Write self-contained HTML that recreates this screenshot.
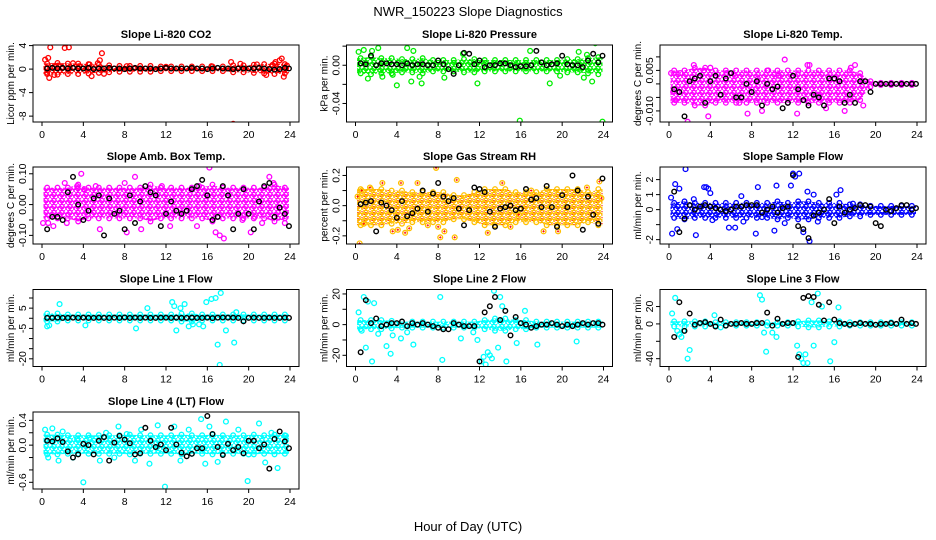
<!DOCTYPE html>
<html><head><meta charset="utf-8"><title>NWR_150223 Slope Diagnostics</title>
<style>
html,body{margin:0;padding:0;background:#fff;}
svg{display:block;font-family:"Liberation Sans",Arial,sans-serif;}
</style></head>
<body>
<svg id="chart" width="936" height="540" viewBox="0 0 936 540" xmlns="http://www.w3.org/2000/svg">
<defs>
<pattern id="pat-red" width="8" height="6" patternUnits="userSpaceOnUse"><circle cx="2" cy="1.5" r="2.1" fill="none" stroke="#ff0000" stroke-width="1.3"/><circle cx="6" cy="2.5" r="2.1" fill="none" stroke="#ff0000" stroke-width="1.3"/><circle cx="4" cy="4.5" r="2.1" fill="none" stroke="#ff0000" stroke-width="1.3"/><circle cx="0" cy="5" r="2.1" fill="none" stroke="#ff0000" stroke-width="1.3"/><circle cx="8" cy="5" r="2.1" fill="none" stroke="#ff0000" stroke-width="1.3"/></pattern>
<pattern id="pat-green" width="8" height="6" patternUnits="userSpaceOnUse"><circle cx="2" cy="1.5" r="2.1" fill="none" stroke="#00ee00" stroke-width="1.3"/><circle cx="6" cy="2.5" r="2.1" fill="none" stroke="#00ee00" stroke-width="1.3"/><circle cx="4" cy="4.5" r="2.1" fill="none" stroke="#00ee00" stroke-width="1.3"/><circle cx="0" cy="5" r="2.1" fill="none" stroke="#00ee00" stroke-width="1.3"/><circle cx="8" cy="5" r="2.1" fill="none" stroke="#00ee00" stroke-width="1.3"/></pattern>
<pattern id="pat-magenta" width="8" height="6" patternUnits="userSpaceOnUse"><circle cx="2" cy="1.5" r="2.1" fill="none" stroke="#ff00ff" stroke-width="1.3"/><circle cx="6" cy="2.5" r="2.1" fill="none" stroke="#ff00ff" stroke-width="1.3"/><circle cx="4" cy="4.5" r="2.1" fill="none" stroke="#ff00ff" stroke-width="1.3"/><circle cx="0" cy="5" r="2.1" fill="none" stroke="#ff00ff" stroke-width="1.3"/><circle cx="8" cy="5" r="2.1" fill="none" stroke="#ff00ff" stroke-width="1.3"/></pattern>
<pattern id="pat-blue" width="8" height="6" patternUnits="userSpaceOnUse"><circle cx="2" cy="1.5" r="2.1" fill="none" stroke="#0000ff" stroke-width="1.3"/><circle cx="6" cy="2.5" r="2.1" fill="none" stroke="#0000ff" stroke-width="1.3"/><circle cx="4" cy="4.5" r="2.1" fill="none" stroke="#0000ff" stroke-width="1.3"/><circle cx="0" cy="5" r="2.1" fill="none" stroke="#0000ff" stroke-width="1.3"/><circle cx="8" cy="5" r="2.1" fill="none" stroke="#0000ff" stroke-width="1.3"/></pattern>
<pattern id="pat-cyan" width="8" height="6" patternUnits="userSpaceOnUse"><circle cx="2" cy="1.5" r="2.1" fill="none" stroke="#00ffff" stroke-width="1.3"/><circle cx="6" cy="2.5" r="2.1" fill="none" stroke="#00ffff" stroke-width="1.3"/><circle cx="4" cy="4.5" r="2.1" fill="none" stroke="#00ffff" stroke-width="1.3"/><circle cx="0" cy="5" r="2.1" fill="none" stroke="#00ffff" stroke-width="1.3"/><circle cx="8" cy="5" r="2.1" fill="none" stroke="#00ffff" stroke-width="1.3"/></pattern>
<pattern id="pat-rh" width="8" height="6" patternUnits="userSpaceOnUse"><circle cx="2" cy="1.5" r="2.1" fill="none" stroke="#ffd000" stroke-width="1.3"/><circle cx="6" cy="2.5" r="2.1" fill="none" stroke="#ffb000" stroke-width="1.3"/><circle cx="4" cy="4.5" r="2.1" fill="none" stroke="#ffd000" stroke-width="1.3"/><circle cx="0" cy="5" r="2.1" fill="none" stroke="#ffb000" stroke-width="1.3"/><circle cx="8" cy="5" r="2.1" fill="none" stroke="#ffb000" stroke-width="1.3"/><rect x="1.5" y="1" width="1" height="1" fill="#ff0000"/><rect x="5.5" y="2" width="1" height="1" fill="#ff0000"/><rect x="3.5" y="4" width="1" height="1" fill="#ff0000"/></pattern>
</defs>
<text x="468" y="16" text-anchor="middle" font-size="13">NWR_150223  Slope Diagnostics</text>
<text x="468" y="531" text-anchor="middle" font-size="13">Hour of Day (UTC)</text>
<g id="panels"></g>
</svg>
<script>
// shared categories
const blackHours = [0.5,1,1.5,2,2.5,3,3.5,4,4.5,5,5.5,6,6.5,7,7.5,8,8.5,9,9.5,10,10.5,11,11.5,12,12.5,13,13.5,14,14.5,15,15.5,16,16.5,17,17.5,18,18.5,19,19.5,20,20.5,21,21.5,22,22.5,23,23.5,23.9];
const bandHours = [0.5,1.5,2.5,3.5,4.5,5.5,6.5,7.5,8.5,9.5,10.5,11.5,12.5,13.5,14.5,15.5,16.5,17.5,18.5,19.5,20.5,21.5,22.5,23.5];
const xTicks = [0,4,8,12,16,20,24];

// Panel 1: CO2
const co2Band = [0.9,1.0,0.9,0.9,0.8,0.7,0.6,0.5,0.5,0.5,0.5,0.4,0.4,0.4,0.4,0.4,0.4,0.4,0.6,0.6,0.7,0.8,0.9,0.8];
const co2Hours = [0.3,0.5,0.6,0.7,0.8,1.2,1.6,2.2,2.6,3.0,3.6,4.6,4.8,5.4,5.6,5.8,6.0,8.2,12.0,16.4,18.3,18.5,19.2,20.8,21.7,22.3,22.6,23.0,23.2,23.4,23.7];
const co2Vals = [1.6,-0.6,1.9,-1.5,3.7,-1.0,0.6,3.6,3.7,1.0,0.5,0.8,-1.2,1.0,1.5,2.7,-0.8,0.5,0.4,0.5,1.2,-9.3,0.9,0.8,-1.0,0.7,1.2,1.5,1.8,-1.3,0.6];
const co2Black = [0.1,0.2,0.1,0.2,0.1,0.2,0.1,0.1,0.2,0.0,0.1,0.1,0.2,0.1,0.1,0.0,0.1,0.2,0.1,0.1,0.1,0.0,0.1,0.2,0.1,0.1,0.1,0.1,0.2,0.1,0.1,0.0,0.1,0.2,0.1,0.1,0.0,0.1,0.1,0.1,0.1,0.2,0.1,0.0,-0.1,0.0,0.2,0.1];

// Panel 2: Pressure
const presBand = [0.008,0.009,0.008,0.008,0.007,0.007,0.008,0.006,0.006,0.006,0.007,0.007,0.006,0.006,0.006,0.006,0.006,0.006,0.006,0.006,0.007,0.007,0.008,0.009];
const presHours = [0.3,0.8,1.2,1.6,2.2,2.6,3.6,4.0,5.0,5.4,5.6,6.2,6.4,8.1,8.6,10.4,11.8,15.9,16.9,18.8,19.8,21.6,22.1,22.4,22.9,23.2,23.9];
const presVals = [0.014,0.016,-0.014,0.015,0.018,-0.012,-0.010,-0.021,0.018,-0.017,0.015,-0.012,-0.019,-0.063,-0.013,0.012,-0.019,-0.058,0.015,-0.019,-0.011,0.014,-0.013,0.011,-0.017,0.023,-0.059];
const presBlack = [0.002,0.001,0.010,0.000,0.002,0.002,0.001,0.001,0.000,0.002,0.000,0.001,0.001,0.000,0.000,0.005,0.001,-0.004,-0.009,0.000,0.013,0.012,0.001,0.005,-0.002,0.000,0.000,0.002,0.002,0.000,-0.002,-0.001,-0.001,0.000,0.015,0.003,0.000,0.001,0.002,0.010,0.001,0.000,0.000,-0.002,0.005,0.012,0.003,0.010];

// Panel 3: Li-820 Temp
const tempMid = [-0.001,-0.001,-0.001,-0.001,-0.001,-0.001,-0.001,-0.001,-0.001,-0.001,-0.001,-0.001,-0.001,-0.001,-0.001,-0.001,-0.001,-0.001,-0.001,0,0,0,0,0];
const tempBand = [0.006,0.006,0.007,0.007,0.006,0.006,0.006,0.006,0.006,0.006,0.006,0.006,0.006,0.006,0.006,0.006,0.006,0.006,0.005,0.001,0.0004,0.0004,0.0004,0.0004];
const tempHours = [0.2,0.4,0.6,1.1,1.8,2.4,3.4,3.8,4.0,5.6,6.4,6.8,7.6,8.6,9.6,10.6,11.2,12.4,13.6,14.4,15.2,16.2,17.0,17.6,18.0,18.8,13.4,9.0];
const tempVals = [0.004,-0.003,-0.006,0.004,-0.014,0.007,0.005,-0.012,0.006,0.004,0.003,-0.007,-0.011,0.002,0.005,0.003,0.009,-0.011,0.007,-0.004,-0.009,-0.015,-0.010,0.006,0.007,-0.008,0.007,-0.010];
const tempBlack = [-0.002,-0.003,-0.012,0.001,0.002,0.003,-0.007,0.001,0.003,-0.004,0.002,0.004,-0.005,-0.005,0.000,-0.003,0.001,-0.008,0.000,-0.002,-0.001,-0.009,-0.007,0.003,-0.002,-0.006,-0.008,-0.004,-0.005,-0.008,0.002,0.002,0.001,-0.007,-0.004,-0.007,0.001,0.001,-0.003,0.000,0.000,0.000,0.000,0.000,0.000,0.000,0.000,0.000];

// Panel 4: Amb Box Temp
const ambBand = [0.05,0.05,0.05,0.06,0.05,0.05,0.05,0.05,0.05,0.05,0.06,0.05,0.05,0.05,0.05,0.05,0.06,0.05,0.05,0.05,0.05,0.05,0.06,0.05];
const ambHours = [0.1,0.6,1.1,2.2,2.4,3.4,3.8,4.1,5.2,5.6,8.0,8.2,9.0,9.6,11.6,12.4,15.0,15.2,16.2,16.8,17.2,17.6,19.4,20.2,20.6,21.3,22.0,22.4,23.5];
const ambVals = [-0.06,-0.06,-0.07,0.07,-0.06,0.06,0.10,0.05,0.06,-0.08,0.07,-0.09,0.09,-0.08,0.06,-0.07,-0.07,0.06,0.12,-0.09,-0.10,-0.11,-0.05,-0.09,-0.04,-0.06,0.09,0.07,-0.06];
const ambBlack = [-0.08,-0.04,-0.04,-0.05,0.04,0.09,0.00,-0.05,-0.02,0.02,0.03,-0.10,0.02,-0.03,-0.02,-0.08,0.03,-0.06,0.01,0.06,0.04,0.03,-0.07,-0.03,0.01,-0.02,-0.03,-0.02,0.05,0.06,0.08,0.03,-0.05,-0.04,0.06,0.03,-0.08,-0.03,0.05,-0.03,-0.08,0.01,0.06,0.07,-0.04,-0.01,-0.03,-0.07];

// Panel 5: Gas Stream RH
const rhBand = [0.12,0.12,0.12,0.11,0.11,0.10,0.10,0.10,0.10,0.08,0.08,0.10,0.12,0.12,0.12,0.10,0.10,0.10,0.12,0.12,0.12,0.12,0.10,0.12];
const rhHours = [0.2,0.4,0.6,0.8,1.4,2.6,3.6,4.1,4.4,4.8,5.2,6.0,7.0,7.8,8.0,8.2,8.6,9.6,9.8,12.8,14.2,15.0,15.8,17.0,18.2,19.6,22.4,23.6,23.8];
const rhVals = [0.06,-0.25,0.10,-0.12,0.12,0.15,-0.17,-0.16,0.15,-0.18,-0.15,0.15,-0.13,0.25,-0.14,-0.21,-0.17,-0.21,0.17,-0.18,0.15,-0.14,-0.06,0.10,-0.17,-0.17,0.12,0.16,0.05];
const rhBlack = [0.01,0.02,0.03,-0.17,0.02,0.00,-0.03,-0.08,0.03,-0.07,-0.05,-0.02,0.10,-0.04,0.08,0.15,0.06,0.03,0.05,-0.02,-0.13,-0.03,0.12,0.11,0.09,-0.04,-0.14,-0.02,-0.01,0.00,-0.03,-0.02,0.11,0.04,0.05,-0.01,0.13,-0.01,-0.14,0.07,-0.01,0.20,0.10,-0.16,0.06,-0.06,-0.12,0.18];

// Panel 6: Sample Flow
const sfBand = [0.5,0.6,0.5,0.5,0.5,0.5,0.5,0.5,0.5,0.5,0.6,0.5,0.6,0.6,0.5,0.5,0.5,0.4,0.4,0.3,0.3,0.3,0.3,0.3];
const sfHours = [0.2,0.3,0.6,0.8,1.0,1.6,2.4,2.6,3.4,3.6,3.8,4.0,4.2,5.8,6.4,7.0,7.2,8.4,8.6,9.0,10.2,10.4,11.2,11.8,12.0,12.2,12.6,13.0,13.4,13.6,14.0,14.4,16.2,16.6,17.8];
const sfVals = [0.8,-1.6,1.7,-1.3,1.4,2.7,0.7,-1.7,1.5,1.5,1.4,1.1,-0.7,-1.2,-1.2,0.9,-0.8,-1.6,1.5,-0.5,-1.4,1.6,-0.9,1.6,2.4,2.2,2.4,-1.5,1.2,-2.1,1.0,-0.8,1.0,1.3,0.4];
const sfBlack = [1.2,-1.5,-0.6,0.3,0.0,0.2,0.3,0.2,0.1,0.0,-0.1,0.0,0.2,0.2,0.3,0.3,0.3,-0.2,0.0,0.2,-0.2,0.1,0.2,2.3,-1.1,-1.3,-1.9,-0.4,-0.2,0.0,0.7,-0.9,0.2,-0.2,0.0,0.1,0.3,0.3,0.2,-0.9,-1.1,0.0,-0.1,0.1,0.3,0.3,0.0,0.1];

// Panel 7: Line 1 Flow
const l1Band = [2,2,1.5,1.5,1.5,1.5,1.5,1.5,1.5,1.5,1.5,1.5,1.5,2,2,1.5,1.5,1.5,1.5,1.5,1.5,1.5,1.5,1.5];
const l1Hours = [0.5,0.7,1.7,4.2,9.1,10.2,12.6,12.8,13.0,13.4,13.8,14.2,14.6,15.2,15.6,15.9,16.4,16.8,17.0,17.2,17.3,17.8,18.6,18.8];
const l1Vals = [-4,-3.5,7,-3.5,-5,5,8,6,-6,5,7,-4,-3,-3,-4,8,9.5,10,-13,-23,12.5,-6,-12,3];
const l1Black = [0.2,0.2,0.3,0.2,0.2,0.3,0.2,0.3,0.2,0.2,0.3,0.2,0.2,0.3,0.2,0.4,0.2,0.3,0.2,0.3,0.2,0.2,0.3,0.3,0.2,0.3,0.2,0.2,0.3,0.2,0.2,0.3,0.1,0.3,0.4,0.3,0.3,0.2,-1.5,0.2,0.3,0.2,0.2,0.3,0.2,0.2,0.3,0.2];

// Panel 8: Line 2 Flow
const l2Band = [3,3,3,2.5,2,2,2,2,2,2,2,2,3,4,4,3,3,2,2,2,2,2,2,2];
const l2Hours = [0.3,0.6,0.8,1.0,1.2,1.6,1.8,2.2,3.0,3.4,3.6,4.4,5.0,5.6,8.2,8.4,10.2,11.4,11.8,12.2,12.4,12.6,12.8,13.0,13.2,13.4,13.8,14.0,14.2,14.6,15.6,16.4,17.6,21.4];
const l2Vals = [8,-4,18,-15,15,-24,14,-6,-14,-19,-7,-9,-5,-13,18,-23,-9,-5,-10,-24,-21,-26,-18,-20,-22,22,-15,18,12,-24,-12,9,-13,-11];
const l2Black = [-18,16,1,4,-1,0,1,1,2,-1,1,0,1,0,-1,-2,-3,-3,1,0,-1,-1,-1,-24,8,12,18,3,9,-7,5,1,0,-2,-1,0,0,1,0,-1,0,-1,0,1,0,1,1,0];

// Panel 9: Line 3 Flow
const l3Band = [3,3,3,3,2,2,2,2,2,2,2,2,3,4,4,3,3,2,2,2,2,2,2,2];
const l3Hours = [0.3,0.6,0.8,1.0,1.2,1.4,1.8,2.0,4.4,5.0,8.8,9.0,9.2,9.4,10.0,10.4,12.4,12.6,12.8,13.0,13.2,13.4,13.8,14.0,14.4,14.8,15.6,16.0,16.4];
const l3Vals = [12,30,-8,-12,-15,-8,-40,-30,10,-4,33,28,-10,-32,-10,-15,-25,-35,-40,-45,-35,-45,25,-25,35,20,-43,-21,19];
const l3Black = [-15,25,-8,12,-1,1,2,0,-3,5,-2,0,0,1,0,0,1,1,13,-2,6,0,1,1,-38,30,32,31,22,4,25,5,1,0,-1,0,1,0,0,-1,0,0,1,0,5,0,1,0];

// Panel 10: Line 4 (LT) Flow
const l4Band = [0.16,0.16,0.15,0.15,0.15,0.15,0.15,0.15,0.16,0.15,0.15,0.15,0.15,0.16,0.15,0.15,0.16,0.15,0.15,0.15,0.16,0.15,0.16,0.15];
const l4Hours = [0.3,0.6,1.0,1.6,2.0,3.0,3.4,4.0,4.6,5.6,6.2,7.0,7.4,8.2,9.0,9.6,10.4,11.2,11.9,12.8,13.4,14.2,15.4,15.8,16.2,17.0,17.8,19.0,19.9,20.0,21.0,21.6,22.2,22.8,23.6];
const l4Vals = [0.25,-0.2,0.27,-0.25,0.22,-0.2,0.1,-0.6,0.12,-0.25,0.2,-0.2,0.3,0.18,-0.25,0.25,-0.3,0.32,-0.67,0.3,-0.25,0.25,0.42,-0.3,0.3,-0.27,0.38,0.25,-0.58,-0.15,0.35,-0.28,0.2,-0.37,0.15];
const l4Black = [0.07,0.06,0.11,0.05,-0.1,-0.2,-0.15,0.02,0.0,-0.15,0.07,0.13,-0.25,0.04,0.15,0.09,0.03,-0.15,-0.13,0.28,0.07,-0.03,0.01,-0.08,0.28,0.01,-0.12,-0.18,-0.14,-0.05,-0.05,0.47,0.18,-0.03,-0.16,0.02,-0.08,-0.03,-0.13,0.07,0.07,-0.05,0.01,-0.38,0.1,0.22,0.06,-0.05];

const panels = [
 {name:'co2',title:'Slope Li-820 CO2',ylab:'Licor ppm per min.',col:0,row:0,dom:[-9.0,4.1],ticks:[4,0,-4,-8],labels:['4','0','-4','-8'],color:'#ff0000',pat:'pat-red',mid:0.05,band:co2Band,hours:co2Hours,vals:co2Vals,black:co2Black},
 {name:'pressure',title:'Slope Li-820 Pressure',ylab:'kPa per min.',col:1,row:0,dom:[-0.0594,0.0212],ticks:[0.02,0,-0.02,-0.04],labels:['','0.00','','-0.04'],color:'#00ee00',pat:'pat-green',mid:-0.0005,band:presBand,hours:presHours,vals:presVals,black:presBlack},
 {name:'li820-temp',title:'Slope Li-820 Temp.',ylab:'degrees C per min.',col:2,row:0,dom:[-0.0141,0.0144],ticks:[0.01,0.005,0,-0.005,-0.01],labels:['','0.005','','','-0.010'],color:'#ff00ff',pat:'pat-magenta',mid:tempMid,band:tempBand,hours:tempHours,vals:tempVals,black:tempBlack},
 {name:'amb-box-temp',title:'Slope Amb. Box Temp.',ylab:'degrees C per min.',col:0,row:1,dom:[-0.128,0.122],ticks:[0.1,0.05,0,-0.05,-0.1],labels:['0.10','','0.00','','-0.10'],color:'#ff00ff',pat:'pat-magenta',mid:0.005,band:ambBand,hours:ambHours,vals:ambVals,black:ambBlack},
 {name:'gas-stream-rh',title:'Slope Gas Stream RH',ylab:'percent per min.',col:1,row:1,dom:[-0.254,0.256],ticks:[0.2,0.1,0,-0.1,-0.2],labels:['0.2','','0.0','','-0.2'],color:'#ffc000',pat:'pat-rh',mid:-0.01,band:rhBand,hours:rhHours,vals:rhVals,black:rhBlack,cross:'#ff0000'},
 {name:'sample-flow',title:'Slope Sample Flow',ylab:'ml/min per min.',col:2,row:1,dom:[-2.29,2.84],ticks:[2,1,0,-1,-2],labels:['2','1','0','','-2'],color:'#0000ff',pat:'pat-blue',mid:-0.05,band:sfBand,hours:sfHours,vals:sfVals,black:sfBlack},
 {name:'line1-flow',title:'Slope Line 1 Flow',ylab:'ml/min per min.',col:0,row:2,dom:[-23.8,14.2],ticks:[10,5,0,-5,-10,-15,-20],labels:['','5','','-5','','','-20'],color:'#00ffff',pat:'pat-cyan',mid:0.4,band:l1Band,hours:l1Hours,vals:l1Vals,black:l1Black},
 {name:'line2-flow',title:'Slope Line 2 Flow',ylab:'ml/min per min.',col:1,row:2,dom:[-27.3,22.9],ticks:[20,10,0,-10,-20],labels:['20','','0','','-20'],color:'#00ffff',pat:'pat-cyan',mid:0,band:l2Band,hours:l2Hours,vals:l2Vals,black:l2Black},
 {name:'line3-flow',title:'Slope Line 3 Flow',ylab:'ml/min per min.',col:2,row:2,dom:[-49,39.6],ticks:[20,0,-20,-40],labels:['20','0','','-40'],color:'#00ffff',pat:'pat-cyan',mid:0,band:l3Band,hours:l3Hours,vals:l3Vals,black:l3Black},
 {name:'line4-flow',title:'Slope Line 4 (LT) Flow',ylab:'ml/min per min.',col:0,row:3,dom:[-0.708,0.535],ticks:[0.4,0.2,0,-0.2,-0.4,-0.6],labels:['0.4','','0.0','','','-0.6'],color:'#00ffff',pat:'pat-cyan',mid:0.01,band:l4Band,hours:l4Hours,vals:l4Vals,black:l4Black}
];

const NS='http://www.w3.org/2000/svg';
const root=document.getElementById('panels');
function mk(tag,attrs,parent){const e=document.createElementNS(NS,tag);for(const k in attrs)e.setAttribute(k,attrs[k]);parent.appendChild(e);return e;}
const colLeft=[33,346.5,660], rowTop=[45,167,289.5,412], W=266, H=77;

panels.forEach(p=>{
  const L=colLeft[p.col], T=rowTop[p.row];
  const g=mk('g',{},root);
  
  
  const xs=h=>L+9+h/24*(W-18);
  const ys=v=>T+H-(v-p.dom[0])/(p.dom[1]-p.dom[0])*H;
  const cp=mk('clipPath',{id:'clip-'+p.name},g); mk('rect',{x:L,y:T,width:W,height:H},cp);
  const plot=mk('g',{'clip-path':'url(#clip-'+p.name+')'},g);
  
  
  const midAt=i=>Array.isArray(p.mid)?p.mid[i]:p.mid;
  let up=[],lo=[];
  p.band.forEach((hw,i)=>{let h=bandHours[i];if(i===0)h=0.15;if(i===p.band.length-1)h=23.9;
    up.push(xs(h).toFixed(1)+','+ys(midAt(i)+hw).toFixed(1));
    lo.unshift(xs(h).toFixed(1)+','+ys(midAt(i)-hw).toFixed(1));});
  const band=mk('polygon',{points:up.concat(lo).join(' '),fill:'url(#'+p.pat+')',stroke:'none'},plot);
  
  
  p.band.forEach((hw,i)=>{
    [1,-1].forEach(s=>{
      const c=mk('circle',{cx:xs(bandHours[i]),cy:ys(midAt(i)+s*hw),r:2.3,fill:'none',stroke:p.color,'stroke-width':1.3},plot);
      
      
    });
  });
  p.hours.forEach((h,i)=>{
    const c=mk('circle',{cx:xs(h),cy:ys(p.vals[i]),r:2.4,fill:'none',stroke:p.color,'stroke-width':1.3},plot);
    
    
    if(p.cross){mk('path',{d:'M'+(xs(h)-1.2)+','+ys(p.vals[i])+'h2.4M'+xs(h)+','+(ys(p.vals[i])-1.2)+'v2.4',stroke:p.cross,'stroke-width':0.8},plot);}
  });
  p.black.forEach((v,i)=>{
    const c=mk('circle',{cx:xs(blackHours[i]),cy:ys(v),r:2.3,fill:'none',stroke:'#000','stroke-width':1.4},plot);
    
    
  });
  const box=mk('rect',{x:L,y:T,width:W,height:H,fill:'none',stroke:'#000','stroke-width':1},g);
  
  
  const t=mk('text',{x:L+W/2,y:T-7,'text-anchor':'middle','font-size':11,'font-weight':'bold'},g);
  t.textContent=p.title;
  
  
  xTicks.forEach(v=>{
    mk('line',{x1:xs(v),x2:xs(v),y1:T+H,y2:T+H+4,stroke:'#000'},g);
    const tl=mk('text',{x:xs(v),y:T+H+16,'text-anchor':'middle','font-size':10.5},g);
    tl.textContent=String(v);
    
    
  });
  p.ticks.forEach((v,i)=>{
    const y=ys(v);
    mk('line',{x1:L-4,x2:L,y1:y,y2:y,stroke:'#000'},g);
    if(p.labels[i]){
      const tl=mk('text',{x:0,y:0,'text-anchor':'middle','font-size':10.5,transform:'translate('+(L-7)+','+y+') rotate(-90)'},g);
      tl.textContent=p.labels[i];
      
      
    }
  });
  const yl=mk('text',{x:0,y:0,'text-anchor':'middle','font-size':10,transform:'translate('+(L-19)+','+(T+H/2)+') rotate(-90)'},g);
  yl.textContent=p.ylab;
  
  
});
</script>
</body></html>
